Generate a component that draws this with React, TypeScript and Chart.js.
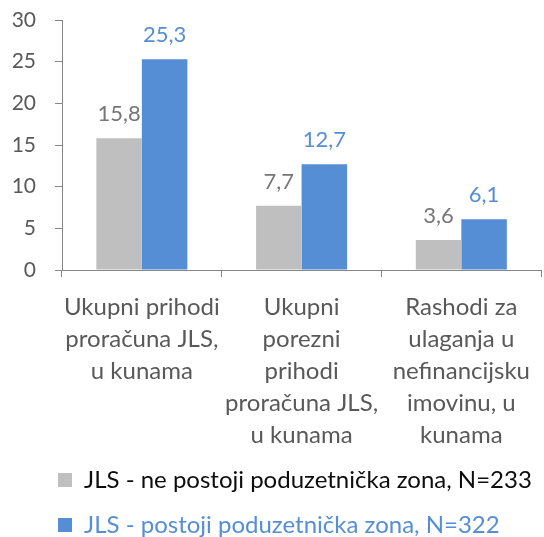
import React, { useEffect, useRef } from 'react';
import { Chart, registerables } from 'chart.js';

Chart.register(...registerables);

const categories: string[][] = [
  ['Ukupni prihodi', 'proračuna JLS,', 'u kunama'],
  ['Ukupni', 'porezni', 'prihodi', 'proračuna JLS,', 'u kunama'],
  ['Rashodi za', 'ulaganja u', 'nefinancijsku', 'imovinu, u', 'kunama'],
];
const seriesNames = [
  'JLS - ne postoji poduzetnička zona, N=233',
  'JLS - postoji poduzetnička zona, N=322',
];
const noZoneValues = [15.8, 7.7, 3.6];
const zoneValues = [25.3, 12.7, 6.1];
const yMin = 0;
const yMax = 30;
const yStep = 5;

const barColors = ['#BFBFBF', '#558ED5'];
const valueLabelColors = ['#767676', '#558ED5'];
const legendTextColors = ['#0D0D0D', '#558ED5'];
const FONT = 'Lato, "Noto Sans", sans-serif';
const FS = 24;

const fmt = (v: number) => v.toFixed(1).replace('.', ',');

const dataLabelPlugin = {
  id: 'valueLabels',
  afterLayout(chart: any) {
    const l = chart.legend;
    if (l) {
      const shift = 37 - l.left;
      l.left += shift;
      l.right += shift;
    }
  },
  afterDatasetsDraw(chart: any) {
    const ctx = chart.ctx;
    chart.data.datasets.forEach((ds: any, i: number) => {
      const meta = chart.getDatasetMeta(i);
      meta.data.forEach((bar: any, j: number) => {
        ctx.save();
        ctx.font = `22px ${FONT}`;
        ctx.fillStyle = valueLabelColors[i];
        ctx.textAlign = 'center';
        ctx.textBaseline = 'alphabetic';
        ctx.fillText(fmt(ds.data[j]), bar.x, bar.y - 17);
        ctx.restore();
      });
    });
  },
};

export default function App() {
  const ref = useRef<HTMLCanvasElement | null>(null);
  useEffect(() => {
    if (!ref.current) return;
    const chart = new Chart(ref.current, {
      type: 'bar',
      data: {
        labels: categories,
        datasets: [
          { label: seriesNames[0], data: noZoneValues, backgroundColor: barColors[0], borderWidth: 0 },
          { label: seriesNames[1], data: zoneValues, backgroundColor: barColors[1], borderWidth: 0 },
        ],
      },
      options: {
        animation: false,
        responsive: true,
        maintainAspectRatio: false,
        datasets: { bar: { categoryPercentage: 0.57, barPercentage: 1 } },
        layout: { padding: { left: 0, right: -3, top: 20, bottom: -10 } },
        font: { family: FONT, size: FS },
        scales: {
          x: {
            grid: { display: true, drawOnChartArea: false, tickLength: 7, color: '#868686', offset: true },
            border: { color: '#868686', width: 1 },
            ticks: {
              color: '#595959',
              font: { family: FONT, size: FS, lineHeight: '32px' },
              padding: 14,
              maxRotation: 0,
              autoSkip: false,
            },
            afterFit: (s: any) => {
              s.height = 177;
            },
          },
          y: {
            min: yMin,
            max: yMax,
            grid: { display: true, drawOnChartArea: false, tickLength: 7, color: '#868686' },
            border: { color: '#868686', width: 1 },
            ticks: {
              stepSize: yStep,
              color: '#595959',
              font: { family: FONT, size: 21 },
              padding: 19,
            },
            afterFit: (s: any) => {
              s.width = 62;
              s.paddingTop = 0;
              s.paddingBottom = 0;
            },
          },
        },
        plugins: {
          tooltip: { enabled: false },
          legend: {
            position: 'bottom',
            align: 'start',
            labels: {
              boxWidth: 14,
              boxHeight: 14,
              padding: 21,
              font: { family: FONT, size: FS },
              generateLabels: (c: any) => {
                const items = Chart.defaults.plugins.legend.labels.generateLabels(c);
                return items.map((it: any, i: number) => ({ ...it, fontColor: legendTextColors[i], lineWidth: 0 }));
              },
            },
          },
        },
      },
      plugins: [dataLabelPlugin],
    } as any);
    return () => chart.destroy();
  }, []);
  return (
    <div style={{ position: 'absolute', left: 0, top: 0, width: 544, height: 537 }}>
      <canvas ref={ref} />
    </div>
  );
}
